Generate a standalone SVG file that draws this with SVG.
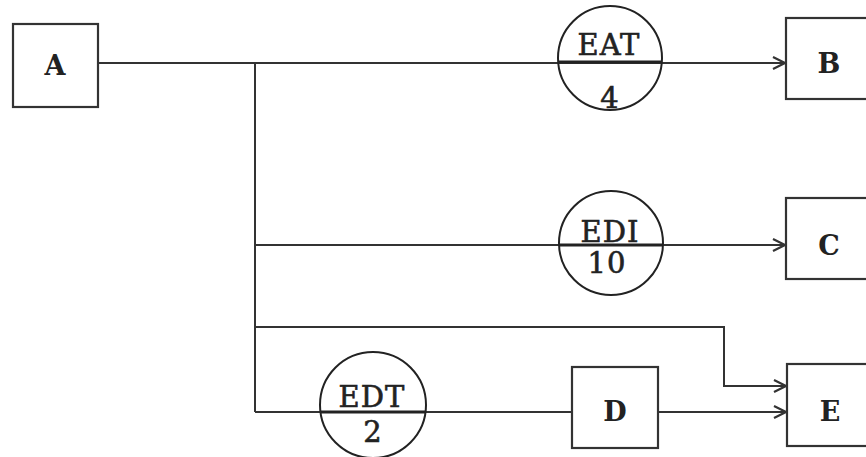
<svg xmlns="http://www.w3.org/2000/svg" width="866" height="457" viewBox="0 0 866 457">
  <style>
    .box { fill: #fff; stroke: #333; stroke-width: 2.2; }
    .circ { fill: none; stroke: #222; stroke-width: 2; }
    .wire { fill: none; stroke: #333; stroke-width: 2; }
    .bar { stroke: #222; stroke-width: 3; }
    .lbl { font-family: "DejaVu Serif", "Liberation Serif", serif; font-size: 27px; fill: #222; text-anchor: middle; }
    .name { font-weight: bold; }
    .rate { font-size: 29px; stroke: #222; stroke-width: 0.6; letter-spacing: 1px; }
  </style>
  <defs>
    <marker id="arrow" viewBox="0 0 14 14" refX="13" refY="7" markerWidth="14" markerHeight="14" markerUnits="userSpaceOnUse" orient="auto">
      <path d="M1,1 L13,7 L1,13" fill="none" stroke="#333" stroke-width="2.2"/>
    </marker>
  </defs>
  <rect width="866" height="457" fill="#fff"/>

  <g id="connectors">
    <!-- A out to the trunk and on to B -->
    <path class="wire" d="M98,63 H785" marker-end="url(#arrow)"/>
    <!-- trunk down the left side -->
    <path class="wire" d="M255,63 V412"/>
    <!-- trunk to C -->
    <path class="wire" d="M255,245 H785" marker-end="url(#arrow)"/>
    <!-- trunk to E, stepping down -->
    <path class="wire" d="M255,327 H724 V386 H786" marker-end="url(#arrow)"/>
    <!-- trunk to D -->
    <path class="wire" d="M255,412 H572"/>
    <!-- D to E -->
    <path class="wire" d="M658,412 H786" marker-end="url(#arrow)"/>
  </g>

  <g id="node-A">
    <rect class="box" x="13" y="24" width="85" height="83"/>
    <text class="lbl name" x="55" y="75">A</text>
  </g>
  <g id="node-B">
    <rect class="box" x="786" y="18" width="90" height="81"/>
    <text class="lbl name" x="829" y="73">B</text>
  </g>
  <g id="node-C">
    <rect class="box" x="786" y="198" width="90" height="81"/>
    <text class="lbl name" x="829" y="255">C</text>
  </g>
  <g id="node-D">
    <rect class="box" x="572" y="367" width="86" height="81"/>
    <text class="lbl name" x="615" y="421">D</text>
  </g>
  <g id="node-E">
    <rect class="box" x="787" y="364" width="90" height="82"/>
    <text class="lbl name" x="830" y="421">E</text>
  </g>

  <g id="gate-EAT">
    <circle class="circ" cx="610" cy="58" r="52"/>
    <line class="bar" x1="558" y1="62" x2="662" y2="62"/>
    <text class="lbl rate" x="609" y="55">EAT</text>
    <text class="lbl rate" x="610" y="108">4</text>
  </g>
  <g id="gate-EDI">
    <circle class="circ" cx="611" cy="243" r="52"/>
    <line class="bar" x1="559" y1="245" x2="663" y2="245"/>
    <text class="lbl rate" x="610" y="242">EDI</text>
    <text class="lbl rate" x="607" y="273">10</text>
  </g>
  <g id="gate-EDT">
    <circle class="circ" cx="373" cy="405" r="53"/>
    <line class="bar" x1="320" y1="412" x2="426" y2="412"/>
    <text class="lbl rate" x="372" y="407">EDT</text>
    <text class="lbl rate" x="373" y="442">2</text>
  </g>
</svg>
